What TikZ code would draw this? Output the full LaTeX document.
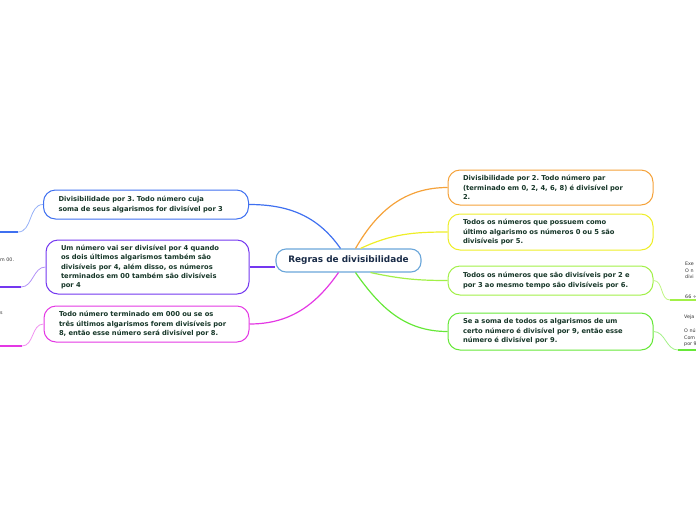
\documentclass[tikz,border=0pt]{standalone}
\usepackage{fontspec}
\newfontfamily\dvfont{DejaVu Sans}
\usetikzlibrary{calc}
\frenchspacing
\definecolor{txtc}{HTML}{163628}
\definecolor{ctxt}{HTML}{1A2C48}
\definecolor{cbord}{HTML}{6AA6DA}
\definecolor{corange}{HTML}{F5A23A}
\definecolor{cyellow}{HTML}{EEEE28}
\definecolor{clgreen}{HTML}{A2F048}
\definecolor{cgreen}{HTML}{66E838}
\definecolor{cblue}{HTML}{3F70F0}
\definecolor{cpurple}{HTML}{7438F0}
\definecolor{cmagenta}{HTML}{E438E4}
\definecolor{smalltxt}{HTML}{333333}
\tikzset{
  topic/.style={draw, fill=white, rounded corners=12pt, line width=1pt,
    text width=175pt, inner xsep=15pt, inner ysep=2pt, align=left,
    text=txtc, font=\dvfont\bfseries\fontsize{6.75}{9.4}\selectfont},
  central/.style={draw=cbord, fill=white, rounded corners=10pt, line width=1.1pt,
    minimum width=145pt, minimum height=23pt, inner sep=0pt,
    text=ctxt, font=\dvfont\bfseries\fontsize{8.9}{10}\selectfont},
  conn/.style={line width=1.2pt},
  subcurve/.style={line width=0.8pt},
  subline/.style={line width=2pt},
  small/.style={inner sep=0pt, anchor=west, text=smalltxt, font=\dvfont\fontsize{4.8}{5.5}\selectfont}
}
\begin{document}
\begin{tikzpicture}[x=1pt,y=-1pt]
\useasboundingbox (0,0) rectangle (696,520);
\clip (0,0) rectangle (696,520);

\node[central] (c) at (348.5,260.5) {Regras de divisibilidade};

\node[topic, draw=corange, minimum height=35pt] (r1) at (550.5,187.5)
  {Divisibilidade por 2. Todo número par\\(terminado em 0, 2, 4, 6, 8) é divisível por\\2.};
\node[topic, draw=cyellow, minimum height=36pt] (r2) at (550.5,232)
  {Todos os números que possuem como\\último algarismo os números 0 ou 5 são\\divisíveis por 5.};
\node[topic, draw=clgreen, minimum height=29pt] (r3) at (550.5,280.5)
  {Todos os números que são divisíveis por 2 e\\por 3 ao mesmo tempo são divisíveis por 6.};
\node[topic, draw=cgreen, minimum height=37pt] (r4) at (550.5,331.5)
  {Se a soma de todos os algarismos de um\\certo número é divisível por 9, então esse\\número é divisível por 9.};

\node[topic, draw=cblue, minimum height=29pt] (l1) at (146,204.5)
  {Divisibilidade por 3. Todo número cuja\\soma de seus algarismos for divisível por 3};
\node[topic, draw=cpurple, minimum height=54pt, text width=173pt] (l2) at (147.5,267)
  {Um número vai ser divisível por 4 quando\\os dois últimos algarismos também são\\divisíveis por 4, além disso, os números\\terminados em 00 também são divisíveis\\por 4};
\node[topic, draw=cmagenta, minimum height=36pt] (l3) at (146.5,324)
  {Todo número terminado em 000 ou se os\\três últimos algarismos forem divisíveis por\\8, então esse número será divisível por 8.};

% main connectors
\draw[conn, corange] ($(c.north)+(7,0)$) to[out=60,in=180] (r1.west);
\draw[conn, cyellow] ($(c.north)+(12,0)$) to[out=25,in=180] (r2.west);
\draw[conn, clgreen] ($(c.south)+(22,0)$) to[out=-12,in=180] (r3.west);
\draw[conn, cgreen] ($(c.south)+(7,0)$) to[out=-55,in=180] (r4.west);
\draw[conn, cblue] ($(c.north)+(-8,0)$) to[out=125,in=0] (l1.east);
\draw[conn, cpurple] (l2.east) -- (c.west |- l2.east);
\draw[conn, cmagenta] ($(c.south)+(-10,0)$) to[out=-125,in=0] (l3.east);

% sub-branches (free ends)
\coordinate (lb1) at (18,232); \coordinate (lb0) at (0,232);
\coordinate (lp1) at (21,287); \coordinate (lp0) at (0,287);
\coordinate (lm1) at (22,346); \coordinate (lm0) at (0,346);
\coordinate (rg1) at (670,300); \coordinate (rg0) at (696,300);
\coordinate (rh1) at (678,350); \coordinate (rh0) at (696,350);

\draw[subcurve, cblue!55] (l1.west) to[out=180,in=0] (lb1);
\draw[subline, cblue] (lb1) -- (lb0);
\draw[subcurve, cpurple!55] (l2.west) to[out=180,in=0] (lp1);
\draw[subline, cpurple] (lp1) -- (lp0);
\draw[subcurve, cmagenta!55] (l3.west) to[out=180,in=0] (lm1);
\draw[subline, cmagenta] (lm1) -- (lm0);
\draw[subcurve, clgreen!70] (r3.east) to[out=0,in=180] (rg1);
\draw[subline, clgreen] (rg1) -- (rg0);
\draw[subcurve, cgreen!60] (r4.east) to[out=0,in=180] (rh1);
\draw[subline, cgreen] (rh1) -- (rh0);

% cut-off texts at the edges
\node[small] (t1) at (0,260) {m 00.};
\node[small] (t2) at (0,313) {s};
\node[small] (t3) at (685,264) {Exe};
\node[small] (t4) at (685,270.5) {O n};
\node[small] (t5) at (685,277) {divi};
\node[small] (t6) at (685,297) {66 ÷};
\node[small] (t7) at (684,317.5) {Veja};
\node[small] (t8) at (684,331) {O nú};
\node[small] (t9) at (684,337.5) {Com};
\node[small] (t10) at (684,344) {por 9};
\end{tikzpicture}
\end{document}
